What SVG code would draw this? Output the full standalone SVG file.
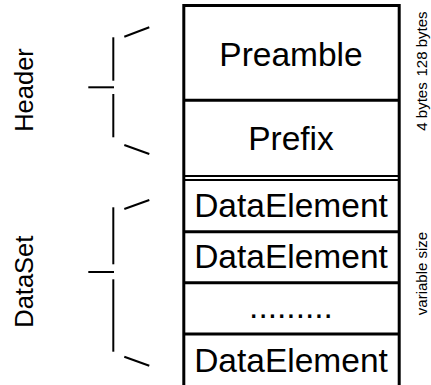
<svg xmlns="http://www.w3.org/2000/svg" width="431" height="385" viewBox="0 0 431 385">
  <style>
    .box { fill: none; stroke: #000; stroke-width: 3; }
    .thin { stroke: #000; stroke-width: 2; fill: none; }
    .br { stroke: #000; stroke-width: 2; fill: none; stroke-linecap: butt; }
    .cell { font-family: "Liberation Sans", Arial, sans-serif; font-size: 33.5px; fill: #000; text-anchor: middle; }
    .side { font-family: "Liberation Sans", Arial, sans-serif; font-size: 25.5px; fill: #000; text-anchor: middle; }
    .size { font-family: "Liberation Sans", Arial, sans-serif; font-size: 15px; fill: #000; text-anchor: middle; }
  </style>
  <rect width="431" height="385" fill="#fff"/>

  <g id="frame">
    <path class="box" d="M183.8,385 V5.5 H399.2 V385"/>
  </g>

  <g id="preamble">
    <text class="cell" x="291" y="65.5">Preamble</text>
  </g>
  <g id="prefix">
    <line class="box" x1="183.8" y1="100.2" x2="399.2" y2="100.2"/>
    <text class="cell" x="291" y="149.5">Prefix</text>
  </g>
  <g id="dataelement1">
    <line class="thin" x1="183.8" y1="176" x2="399.2" y2="176"/>
    <line class="thin" x1="183.8" y1="180" x2="399.2" y2="180"/>
    <text class="cell" x="291" y="216.7">DataElement</text>
  </g>
  <g id="dataelement2">
    <line class="box" x1="183.8" y1="231.7" x2="399.2" y2="231.7"/>
    <text class="cell" x="291" y="268.3">DataElement</text>
  </g>
  <g id="ellipsis">
    <line class="box" x1="183.8" y1="282.7" x2="399.2" y2="282.7"/>
    <text class="cell" x="291" y="318.3">.........</text>
  </g>
  <g id="dataelement3">
    <line class="box" x1="183.8" y1="334" x2="399.2" y2="334"/>
    <text class="cell" x="291" y="371.7">DataElement</text>
  </g>

  <g id="header-label">
    <text class="side" transform="translate(33,90) rotate(-90)">Header</text>
  </g>
  <g id="dataset-label">
    <text class="side" transform="translate(33,281.7) rotate(-90)">DataSet</text>
  </g>

  <g id="size-labels">
    <text class="size" transform="translate(426.5,44) rotate(-90)">128 bytes</text>
    <text class="size" transform="translate(426.5,106.5) rotate(-90)">4 bytes</text>
    <text class="size" transform="translate(426.5,273.5) rotate(-90)">variable size</text>
  </g>

  <g id="connectors">
    <g id="header-brace">
      <line class="br" x1="124.3" y1="36.7" x2="149.3" y2="27.3"/>
      <line class="br" x1="113.3" y1="37.3" x2="113.3" y2="80.7"/>
      <line class="br" x1="88.3" y1="87.3" x2="114" y2="87.3"/>
      <line class="br" x1="113.3" y1="94" x2="113.3" y2="137.3"/>
      <line class="br" x1="124.3" y1="145" x2="149.3" y2="154"/>
    </g>
    <g id="dataset-brace">
      <line class="br" x1="124.3" y1="209" x2="149.3" y2="200"/>
      <line class="br" x1="113.3" y1="207.3" x2="113.3" y2="264.3"/>
      <line class="br" x1="88.3" y1="272" x2="114" y2="272"/>
      <line class="br" x1="113.3" y1="279.3" x2="113.3" y2="351.7"/>
      <line class="br" x1="124.3" y1="356.7" x2="149.3" y2="365.7"/>
    </g>
  </g>
</svg>
